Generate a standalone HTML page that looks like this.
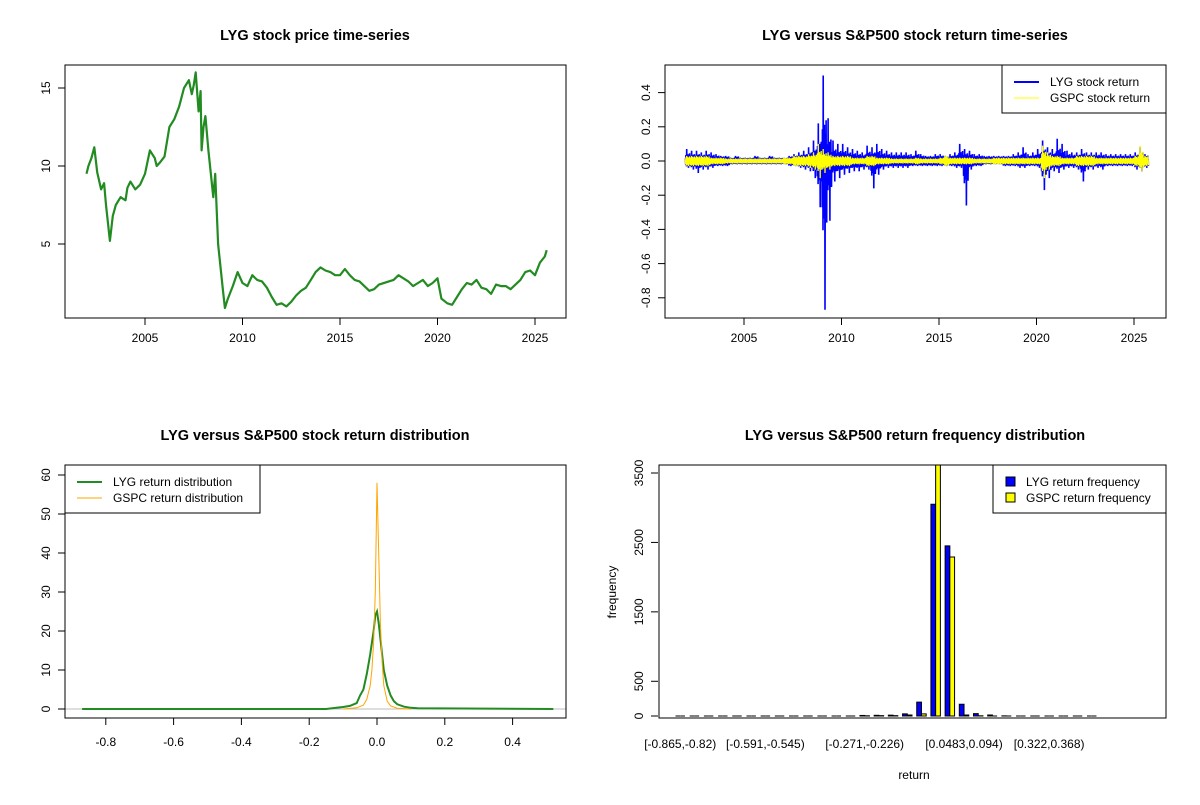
<!DOCTYPE html>
<html><head><meta charset="utf-8"><style>
body{margin:0;background:#fff;}
svg{font-family:"Liberation Sans",Arial,sans-serif;}
.t{font-size:12px;fill:#000}
.ti{font-size:14.5px;font-weight:bold;fill:#000}
</style></head><body>
<svg id="c" width="1200" height="800" viewBox="0 0 1200 800" xmlns="http://www.w3.org/2000/svg">
<rect width="1200" height="800" fill="#fff"/>
<g id="g1"></g>
<g id="g2"></g>
<g id="g3"></g>
<g id="g4"></g>
</svg>
<script>
const priceYears=[2002.0,2002.1,2002.25,2002.4,2002.55,2002.75,2002.9,2003.0,2003.2,2003.35,2003.5,2003.75,2004.0,2004.1,2004.25,2004.5,2004.75,2005.0,2005.25,2005.5,2005.6,2005.75,2006.0,2006.25,2006.5,2006.75,2007.0,2007.25,2007.4,2007.5,2007.6,2007.75,2007.85,2007.9,2008.0,2008.1,2008.25,2008.5,2008.6,2008.75,2009.0,2009.1,2009.25,2009.5,2009.75,2010.0,2010.25,2010.5,2010.75,2011.0,2011.25,2011.5,2011.75,2012.0,2012.25,2012.5,2012.75,2013.0,2013.25,2013.5,2013.75,2014.0,2014.25,2014.5,2014.75,2015.0,2015.25,2015.5,2015.75,2016.0,2016.5,2016.75,2017.0,2017.5,2017.75,2018.0,2018.5,2018.75,2019.0,2019.25,2019.5,2019.75,2020.0,2020.2,2020.5,2020.75,2021.0,2021.25,2021.5,2021.75,2022.0,2022.25,2022.5,2022.75,2023.0,2023.25,2023.5,2023.75,2024.0,2024.25,2024.5,2024.75,2025.0,2025.25,2025.5,2025.6];
const priceValues=[9.5,10.0,10.5,11.2,9.6,8.5,8.9,7.5,5.2,6.8,7.5,8.0,7.8,8.6,9.0,8.5,8.8,9.5,11.0,10.5,10.0,10.2,10.6,12.5,13.0,13.8,15.0,15.5,14.6,15.2,16.0,13.5,14.8,11.0,12.5,13.2,11.0,8.0,9.5,5.0,2.0,0.9,1.5,2.3,3.2,2.5,2.3,3.0,2.7,2.6,2.2,1.6,1.1,1.2,1.0,1.3,1.7,2.0,2.2,2.7,3.2,3.5,3.3,3.2,3.0,3.0,3.4,3.0,2.7,2.6,2.0,2.1,2.4,2.6,2.7,3.0,2.6,2.3,2.5,2.7,2.3,2.5,2.8,1.5,1.2,1.1,1.6,2.1,2.5,2.4,2.7,2.2,2.1,1.8,2.4,2.3,2.3,2.1,2.4,2.7,3.2,3.3,3.0,3.8,4.2,4.6];
const priceYTicks=[5,10,15];
const yearTicks=[2005,2010,2015,2020,2025];
const lygHigh=[.07,.06,.06,.05,.06,.05,.04,.03,.03,.02,.03,.02,.02,.02,.03,.02,.02,.03,.02,.02,.02,.03,.04,.05,.06,.08,.12,.22,.50,.25,.12,.10,.10,.08,.07,.06,.05,.09,.08,.10,.07,.06,.05,.05,.05,.05,.04,.06,.04,.03,.03,.04,.04,.03,.04,.05,.10,.07,.06,.04,.04,.03,.03,.03,.03,.03,.03,.04,.05,.08,.04,.05,.07,.12,.08,.07,.13,.10,.06,.05,.05,.07,.05,.05,.05,.05,.04,.04,.04,.04,.04,.04,.05,.08,.04];
const lygLow=[-.04,-.05,-.07,-.05,-.05,-.04,-.03,-.03,-.03,-.02,-.02,-.02,-.02,-.02,-.02,-.02,-.02,-.02,-.02,-.02,-.02,-.03,-.03,-.04,-.05,-.06,-.10,-.27,-.87,-.35,-.12,-.10,-.08,-.07,-.06,-.06,-.05,-.05,-.16,-.08,-.05,-.04,-.04,-.04,-.04,-.04,-.03,-.03,-.03,-.03,-.03,-.03,-.03,-.03,-.03,-.04,-.04,-.26,-.05,-.03,-.03,-.02,-.02,-.02,-.02,-.03,-.03,-.03,-.04,-.04,-.03,-.03,-.04,-.17,-.10,-.06,-.07,-.05,-.04,-.04,-.05,-.12,-.05,-.05,-.04,-.05,-.03,-.03,-.03,-.03,-.03,-.03,-.05,-.06,-.04];
const gspcHigh=[.03,.03,.03,.03,.03,.02,.02,.02,.015,.015,.015,.015,.015,.015,.015,.015,.015,.015,.015,.015,.02,.02,.03,.03,.03,.04,.05,.10,.07,.05,.03,.03,.03,.03,.02,.02,.02,.03,.03,.02,.02,.02,.015,.015,.015,.015,.015,.02,.015,.015,.015,.015,.02,.03,.02,.02,.02,.02,.02,.015,.015,.015,.015,.02,.02,.02,.02,.02,.02,.02,.02,.02,.02,.09,.05,.03,.03,.02,.02,.02,.03,.03,.03,.03,.02,.02,.02,.02,.02,.02,.02,.02,.03,.09,.03];
const gspcLow=[-.03,-.03,-.03,-.03,-.03,-.02,-.02,-.02,-.015,-.015,-.015,-.015,-.015,-.015,-.015,-.015,-.015,-.015,-.015,-.015,-.02,-.02,-.03,-.03,-.03,-.04,-.05,-.10,-.07,-.05,-.03,-.03,-.03,-.03,-.02,-.02,-.02,-.03,-.03,-.02,-.02,-.02,-.015,-.015,-.015,-.015,-.015,-.02,-.015,-.015,-.015,-.015,-.02,-.03,-.02,-.02,-.02,-.02,-.02,-.015,-.015,-.015,-.015,-.02,-.02,-.02,-.02,-.02,-.02,-.02,-.02,-.02,-.02,-.10,-.05,-.03,-.03,-.02,-.02,-.02,-.03,-.03,-.03,-.03,-.02,-.02,-.02,-.02,-.02,-.02,-.02,-.02,-.03,-.06,-.03];
const returnYTicks=[-0.8,-0.6,-0.4,-0.2,0.0,0.2,0.4];
const densX=[-0.87,-0.15,-0.12,-0.1,-0.08,-0.06,-0.05,-0.04,-0.03,-0.02,-0.015,-0.01,-0.005,0,0.005,0.01,0.015,0.02,0.03,0.04,0.05,0.06,0.08,0.1,0.12,0.52];
const lygDens=[0,0,0.3,0.5,0.8,1.5,3.5,5,9,14,17,20,24,25,22,18,14,10,6,3.5,2,1.2,0.6,0.3,0.2,0];
const gspcDensX=[-0.1,-0.06,-0.04,-0.03,-0.02,-0.015,-0.01,-0.005,0,0.005,0.01,0.015,0.02,0.03,0.04,0.06,0.1];
const gspcDens=[0,0.3,1,2.5,6,10,17,30,58,40,22,12,6,2,0.8,0.2,0];
const densXTicks=[-0.8,-0.6,-0.4,-0.2,0.0,0.2,0.4];
const densYTicks=[0,10,20,30,40,50,60];
const lygFreq=[0,0,0,0,0,0,0,0,0,0,0,0,0,8,10,12,30,200,3050,2450,170,35,15,2,0,0,0,0,0,0];
const gspcFreq=[0,0,0,0,0,0,0,0,0,0,0,0,0,3,5,5,15,30,3700,2290,15,3,0,0,0,0,0,0,0,0];
const binLabels=["[-0.865,-0.82)","","","","","","[-0.591,-0.545)","","","","","","","[-0.271,-0.226)","","","","","","","[0.0483,0.094)","","","","","","[0.322,0.368)","","",""];
const freqYTicks=[0,500,1500,2500,3500];

const NS="http://www.w3.org/2000/svg";
function mk(p,tag,a,txt){const e=document.createElementNS(NS,tag);for(const k in a)e.setAttribute(k,a[k]);if(txt!==undefined)e.textContent=txt;p.appendChild(e);return e;}

// Panel 1
const g1=document.getElementById('g1');
const tx1=y=>145+(y-2005)*19.5, py=v=>322-v*15.6;
let e=mk(g1,'text',{x:315,y:40,'text-anchor':'middle',class:'ti'},'LYG stock price time-series');


let d=priceYears.map((y,i)=>(i?'L':'M')+tx1(y).toFixed(1)+' '+py(priceValues[i]).toFixed(1)).join('');
e=mk(g1,'path',{d:d,fill:'none',stroke:'#228B22','stroke-width':2.2,'stroke-linejoin':'round'});


e=mk(g1,'rect',{x:65,y:65,width:501,height:253,fill:'none',stroke:'#000'});


yearTicks.forEach(t=>{mk(g1,'line',{x1:tx1(t),x2:tx1(t),y1:318,y2:325,stroke:'#000'});
 e=mk(g1,'text',{x:tx1(t),y:342,'text-anchor':'middle',class:'t'},t);
 
 });
priceYTicks.forEach(t=>{mk(g1,'line',{x1:58,x2:65,y1:py(t),y2:py(t),stroke:'#000'});
 e=mk(g1,'text',{x:0,y:0,'text-anchor':'middle',class:'t',transform:`translate(50,${py(t)}) rotate(-90)`},t);
 
 });

// Panel 2
const g2=document.getElementById('g2');
const tx2=y=>744+(y-2005)*19.5, ry=v=>161-v*171;
e=mk(g2,'text',{x:915,y:40,'text-anchor':'middle',class:'ti'},'LYG versus S&P500 stock return time-series');


const pat=[0.3,0.7,0.45,1,0.5,0.35,0.8,0.25,0.6,0.4,0.9,0.3];
const patB=[0.6,0.3,0.9,0.4,0.25,0.75,0.5,1,0.35,0.55,0.3,0.8];
function zig(hi,lo){let s='';hi.forEach((h,i)=>{const y0=2002+i*0.25;const n=pat.length;
 for(let k=0;k<n;k++){const yr=y0+k*0.25/n;
  const big=(k===3);const hh=big?h:Math.min(h,Math.abs(h)*0.5+0.015);const ll=(k===7)?lo[i]:-Math.min(-lo[i],Math.abs(lo[i])*0.5+0.015);
  s+=(s?'L':'M')+tx2(yr).toFixed(1)+' '+ry(hh*pat[k]).toFixed(1)+'L'+tx2(yr+0.25/n/2).toFixed(1)+' '+ry(ll*patB[k]).toFixed(1);}});return s;}
e=mk(g2,'path',{d:zig(lygHigh,lygLow),fill:'none',stroke:'#0000FF','stroke-width':1.6});


e=mk(g2,'path',{d:zig(gspcHigh,gspcLow),fill:'none',stroke:'#FFFF00','stroke-width':1.3});


e=mk(g2,'rect',{x:665,y:65,width:501,height:253,fill:'none',stroke:'#000'});


yearTicks.forEach(t=>{mk(g2,'line',{x1:tx2(t),x2:tx2(t),y1:318,y2:325,stroke:'#000'});
 e=mk(g2,'text',{x:tx2(t),y:342,'text-anchor':'middle',class:'t'},t);
 
 });
returnYTicks.forEach(t=>{mk(g2,'line',{x1:658,x2:665,y1:ry(t),y2:ry(t),stroke:'#000'});
 e=mk(g2,'text',{x:0,y:0,'text-anchor':'middle',class:'t',transform:`translate(650,${ry(t)}) rotate(-90)`},t.toFixed(1));
 
 });
e=mk(g2,'rect',{x:1002,y:65,width:164,height:48,fill:'#fff',stroke:'#000'});


mk(g2,'line',{x1:1014,x2:1039,y1:82,y2:82,stroke:'#0000FF','stroke-width':2});
e=mk(g2,'text',{x:1050,y:86,class:'t'},'LYG stock return');


mk(g2,'line',{x1:1014,x2:1039,y1:98,y2:98,stroke:'#FFFF00','stroke-width':1});
e=mk(g2,'text',{x:1050,y:102,class:'t'},'GSPC stock return');



// Panel 3
const g3=document.getElementById('g3');
const dx=v=>377+v*339, dy=v=>709-v*3.9;
e=mk(g3,'text',{x:315,y:440,'text-anchor':'middle',class:'ti'},'LYG versus S&P500 stock return distribution');


e=mk(g3,'line',{x1:65,x2:566,y1:dy(0),y2:dy(0),stroke:'#BEBEBE'});


e=mk(g3,'path',{d:densX.map((x,i)=>(i?'L':'M')+dx(x).toFixed(1)+' '+dy(lygDens[i]).toFixed(1)).join(''),fill:'none',stroke:'#228B22','stroke-width':2});


e=mk(g3,'path',{d:gspcDensX.map((x,i)=>(i?'L':'M')+dx(x).toFixed(1)+' '+dy(gspcDens[i]).toFixed(1)).join(''),fill:'none',stroke:'#FFA500','stroke-width':1});


e=mk(g3,'rect',{x:65,y:465,width:501,height:253,fill:'none',stroke:'#000'});


densXTicks.forEach(t=>{mk(g3,'line',{x1:dx(t),x2:dx(t),y1:718,y2:725,stroke:'#000'});
 e=mk(g3,'text',{x:dx(t),y:746,'text-anchor':'middle',class:'t'},t.toFixed(1));
 
 });
densYTicks.forEach(t=>{mk(g3,'line',{x1:58,x2:65,y1:dy(t),y2:dy(t),stroke:'#000'});
 e=mk(g3,'text',{x:0,y:0,'text-anchor':'middle',class:'t',transform:`translate(50,${dy(t)}) rotate(-90)`},t);
 
 });
e=mk(g3,'rect',{x:65,y:465,width:195,height:48,fill:'#fff',stroke:'#000'});


mk(g3,'line',{x1:77,x2:102,y1:482,y2:482,stroke:'#228B22','stroke-width':2});
e=mk(g3,'text',{x:113,y:486,class:'t'},'LYG return distribution');


mk(g3,'line',{x1:77,x2:102,y1:498,y2:498,stroke:'#FFA500','stroke-width':1});
e=mk(g3,'text',{x:113,y:502,class:'t'},'GSPC return distribution');



// Panel 4
const g4=document.getElementById('g4');
const bw=4.73, fy=v=>716-v*0.06943;
e=mk(g4,'text',{x:915,y:440,'text-anchor':'middle',class:'ti'},'LYG versus S&P500 return frequency distribution');


mk(g4,'clipPath',{id:'cp'}).appendChild(document.createElementNS(NS,'rect'));
const cr=document.querySelector('#cp rect');cr.setAttribute('x',659);cr.setAttribute('y',465);cr.setAttribute('width',507);cr.setAttribute('height',253);
const bars=mk(g4,'g',{'clip-path':'url(#cp)'});
function bar(x0,v,col){const y=fy(v);return mk(bars,'path',{d:`M${x0} 716L${x0} ${y}L${x0+bw} ${y}L${x0+bw} 716Z`,fill:col,stroke:'#000','stroke-width':1});}
lygFreq.forEach((v,i)=>{const x0=675.5+i*3*bw;
 e=bar(x0,v,'#0000FF');
 
 
 e=bar(x0+bw,gspcFreq[i],'#FFFF00');
 
 
 if(binLabels[i]){e=mk(g4,'text',{x:x0+bw,y:748,'text-anchor':'middle',class:'t'},binLabels[i]);
 
 }
});
e=mk(g4,'rect',{x:659,y:465,width:507,height:253,fill:'none',stroke:'#000'});


freqYTicks.forEach(t=>{mk(g4,'line',{x1:651,x2:658,y1:fy(t),y2:fy(t),stroke:'#000'});
 e=mk(g4,'text',{x:0,y:0,'text-anchor':'middle',class:'t',transform:`translate(643,${fy(t)}) rotate(-90)`},t);
 
 });
e=mk(g4,'text',{x:914,y:779,'text-anchor':'middle',class:'t'},'return');


e=mk(g4,'text',{x:0,y:0,'text-anchor':'middle',class:'t',transform:'translate(616,592) rotate(-90)'},'frequency');


e=mk(g4,'rect',{x:993,y:465,width:173,height:48,fill:'#fff',stroke:'#000'});


mk(g4,'rect',{x:1006,y:477,width:9,height:9,fill:'#0000FF',stroke:'#000'});
e=mk(g4,'text',{x:1026,y:486,class:'t'},'LYG return frequency');


mk(g4,'rect',{x:1006,y:493,width:9,height:9,fill:'#FFFF00',stroke:'#000'});
e=mk(g4,'text',{x:1026,y:502,class:'t'},'GSPC return frequency');


</script>
</body></html>
